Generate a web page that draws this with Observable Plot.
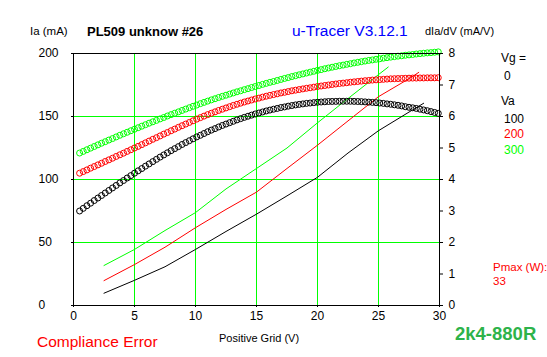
<!DOCTYPE html>
<html><head><meta charset="utf-8">
<script src="https://cdn.jsdelivr.net/npm/d3@7"></script>
<script src="https://cdn.jsdelivr.net/npm/@observablehq/plot@0.6"></script>
<style>body{margin:0;background:#fff} #chart svg{display:block}</style>
</head><body><div id="chart"></div>
<script>
// Sweep of positive grid voltage (V)
const gridV = [0.5,0.8,1.1,1.4,1.7,2.0,2.3,2.6,2.9,3.2,3.5,3.8,4.1,4.4,4.7,5.0,5.3,5.6,5.9,6.2,6.5,6.8,7.1,7.4,7.7,8.0,8.3,8.6,8.9,9.2,9.5,9.8,10.1,10.4,10.7,11.0,11.3,11.6,11.9,12.2,12.5,12.8,13.1,13.4,13.7,14.0,14.3,14.6,14.9,15.2,15.5,15.8,16.1,16.4,16.7,17.0,17.3,17.6,17.9,18.2,18.5,18.8,19.1,19.4,19.7,20.0,20.3,20.6,20.9,21.2,21.5,21.8,22.1,22.4,22.7,23.0,23.3,23.6,23.9,24.2,24.5,24.8,25.1,25.4,25.7,26.0,26.3,26.6,26.9,27.2,27.5,27.8,28.1,28.4,28.7,29.0,29.3,29.6,29.9];
// Anode current Ia (mA) for Va = 100, 200, 300 V
const iaVa100 = [75.0,77.1,79.2,81.2,83.3,85.3,87.3,89.3,91.3,93.3,95.3,97.3,99.2,101.2,103.1,105.0,106.9,108.7,110.6,112.4,114.2,116.0,117.8,119.5,121.2,122.9,124.5,126.1,127.8,129.3,130.8,132.3,133.8,135.1,136.5,137.9,139.2,140.4,141.7,142.9,144.0,145.1,146.2,147.3,148.3,149.3,150.2,151.1,152.0,152.8,153.6,154.4,155.1,155.8,156.4,157.1,157.6,158.2,158.7,159.2,159.6,160.0,160.4,160.7,161.0,161.3,161.5,161.7,161.9,161.95,162.0,162.1,162.1,162.1,162.1,162.0,161.9,161.8,161.6,161.4,161.2,161.0,160.7,160.4,160.0,159.7,159.3,158.9,158.4,157.8,157.3,156.9,156.4,155.8,155.2,154.6,153.9,153.2,152.5];
const iaVa200 = [105.0,106.3,107.6,109.0,110.3,111.6,112.9,114.3,115.6,116.9,118.3,119.6,120.9,122.3,123.6,125.0,126.3,127.7,129.1,130.5,131.9,133.2,134.6,136.0,137.3,138.7,140.0,141.4,142.7,144.0,145.3,146.6,147.9,149.1,150.3,151.5,152.6,153.7,154.8,155.8,156.8,157.8,158.8,159.7,160.6,161.5,162.3,163.1,163.9,164.6,165.4,166.1,166.8,167.4,168.0,168.7,169.2,169.8,170.4,170.9,171.4,171.9,172.4,172.8,173.3,173.8,174.2,174.6,175.0,175.4,175.8,176.2,176.5,176.8,177.2,177.5,177.8,178.1,178.4,178.6,178.9,179.1,179.3,179.5,179.7,179.9,180.0,180.1,180.2,180.3,180.4,180.5,180.5,180.6,180.6,180.7,180.7,180.7,180.8];
const iaVa300 = [121.0,122.3,123.6,124.9,126.2,127.5,128.8,130.0,131.3,132.5,133.8,135.1,136.3,137.5,138.7,139.9,141.1,142.3,143.5,144.7,145.8,146.9,148.1,149.2,150.4,151.5,152.6,153.7,154.8,155.9,157.0,158.1,159.1,160.2,161.2,162.2,163.2,164.1,165.1,166.0,166.9,167.8,168.7,169.6,170.4,171.3,172.1,173.0,173.8,174.6,175.5,176.3,177.1,177.8,178.6,179.4,180.2,180.9,181.7,182.4,183.1,183.8,184.5,185.2,185.9,186.6,187.2,187.9,188.5,189.1,189.7,190.3,190.8,191.4,191.9,192.5,193.0,193.5,194.0,194.5,194.9,195.4,195.8,196.3,196.7,197.1,197.5,197.9,198.2,198.6,198.9,199.2,199.6,199.9,200.2,200.5,200.7,201.0,201.3];
// Transconductance dIa/dV (mA/V), right axis
const gmV100 = [2.5,5,7.5,10,12.5,15,17.5,20,22.5,25,27.5,28.7];
const gm100  = [0.39,0.80,1.23,1.78,2.35,2.90,3.48,4.07,4.84,5.55,6.14,6.42];
const gmV200 = [2.5,5,7.5,10,12.5,15,17.5,20,22.5,25,27.5,28.3];
const gm200  = [0.79,1.30,1.85,2.47,3.05,3.60,4.35,5.09,5.86,6.63,7.20,7.40];
const gmV300 = [2.5,5,7.5,10,12.5,15,17.5,20,22.5,25,25.8];
const gm300  = [1.27,1.78,2.38,2.95,3.70,4.35,5.00,5.80,6.57,7.33,7.57];

const vaLabels = ["100","200","300"];
const vaColors = ["#000000","#ff0000","#00ff00"];
const xTicks = [0,5,10,15,20,25,30];
const yTicks = [0,50,100,150,200];
const gmTicks = [0,1,2,3,4,5,6,7,8];
const K = 25; // 8 mA/V on the right axis corresponds to 200 mA on the left

const iaSets = [iaVa100, iaVa200, iaVa300];
const gmSets = [[gmV100, gm100],[gmV200, gm200],[gmV300, gm300]];
const points = vaLabels.flatMap((va, s) => gridV.map((v, i) => ({va, vg: v, ia: iaSets[s][i]})));
const lines = vaLabels.flatMap((va, s) => gmSets[s][0].map((v, i) => ({va, vg: v, gm: gmSets[s][1][i]})));

const FONT = "'Liberation Sans', Arial, sans-serif";
const svg = Plot.plot({
  width: 547, height: 357,
  marginLeft: 73, marginRight: 108, marginTop: 53, marginBottom: 52,
  x: {domain: [0, 30], axis: null},
  y: {domain: [0, 200], axis: null},
  color: {domain: vaLabels, range: vaColors},
  style: {fontFamily: FONT, fontSize: "12px", background: "#fff", color: "#000"},
  marks: [
    Plot.gridX({ticks: [5,10,15,20,25], stroke: "#00ff00", strokeOpacity: 1, strokeWidth: 1}),
    Plot.gridY({ticks: [50,100,150], stroke: "#00ff00", strokeOpacity: 1, strokeWidth: 1}),
    Plot.line(lines, {x: "vg", y: d => d.gm * K, z: "va", stroke: "va", strokeWidth: 1}),
    Plot.dot(points, {x: "vg", y: "ia", stroke: "va", r: 3, strokeWidth: 1}),
    Plot.frame({stroke: "#000"}),
    Plot.axisX({ticks: xTicks, tickSize: 2, tickPadding: 4, label: null, fontSize: 12}),
    Plot.axisY({anchor: "left", ticks: yTicks, tickSize: 2, tickPadding: 33, textAnchor: "start", label: null, fontSize: 12}),
    Plot.axisY({anchor: "right", ticks: gmTicks.map(t => t * K), tickFormat: d => d / K, tickSize: 3, tickPadding: 6, label: null, fontSize: 12})
  ]
});
document.getElementById("chart").appendChild(svg);

// Annotations (header, legend, footer)
const notes = [
  {t: "Ia (mA)", x: 30, y: 35, size: 11.5, color: "#000"},
  {t: "PL509 unknow #26", x: 87, y: 36, size: 13, color: "#000", weight: "bold"},
  {t: "u-Tracer V3.12.1", x: 292, y: 36, size: 15.5, color: "#0000ff"},
  {t: "dIa/dV (mA/V)", x: 425, y: 35, size: 11, color: "#000"},
  {t: "Vg =", x: 501, y: 62, size: 12, color: "#000"},
  {t: "0", x: 504, y: 80, size: 12, color: "#000"},
  {t: "Va", x: 501, y: 105, size: 12, color: "#000"},
  {t: "100", x: 504, y: 123, size: 12, color: vaColors[0]},
  {t: "200", x: 504, y: 138, size: 12, color: vaColors[1]},
  {t: "300", x: 504, y: 154, size: 12, color: vaColors[2]},
  {t: "Pmax (W):", x: 493, y: 271, size: 11.5, color: "#ff0000"},
  {t: "33", x: 493, y: 285, size: 11.5, color: "#ff0000"},
  {t: "2k4-880R", x: 455, y: 340, size: 18.5, color: "#2db34a", weight: "bold"},
  {t: "Compliance Error", x: 37, y: 347, size: 15.5, color: "#ff0000"},
  {t: "Positive Grid (V)", x: 219, y: 342, size: 11, color: "#000"}
];
const sel = d3.select(svg);
for (const n of notes) {
  sel.append("text").attr("x", n.x).attr("y", n.y)
    .attr("text-anchor", "start")
    .attr("font-family", FONT).attr("font-size", n.size)
    .attr("font-weight", n.weight || "normal").attr("fill", n.color)
    .text(n.t);
}
</script>
</body></html>
